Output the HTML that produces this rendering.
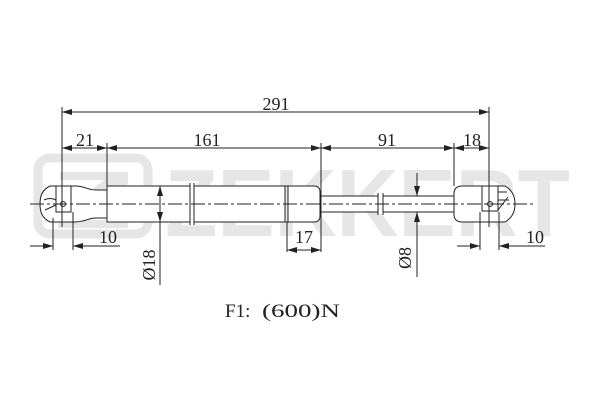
<!DOCTYPE html>
<html><head><style>body{margin:0;background:#fff}svg{display:block}</style></head><body>
<svg width="600" height="400" viewBox="0 0 600 400" xmlns="http://www.w3.org/2000/svg">
<defs>
<marker id="a" viewBox="0 0 10 6" refX="10" refY="3" markerWidth="10" markerHeight="6" orient="auto-start-reverse" markerUnits="userSpaceOnUse"><path d="M0,0L10,3L0,6z" fill="#222"/></marker>
</defs>
<g fill="#e6e6e6">
<rect x="38" y="158" width="110" height="76" rx="12" fill="none" stroke="#e6e6e6" stroke-width="9"/>
<path d="M60,172H128V184L82,220H128V228H58V216L104,180H60Z"/>
<text x="165" y="236" font-family="Liberation Sans,sans-serif" font-weight="bold" font-size="96" textLength="405" lengthAdjust="spacingAndGlyphs">ZEKKERT</text>
</g>
<g stroke="#222" stroke-width="1" fill="none">
<line x1="30" y1="204" x2="535" y2="204" stroke-dasharray="14,3,3,3"/>
<path d="M50,186H75C85,186 88,190 96,190H107V218H96C88,218 85,222 75,222H50C42,218 40,212 40,204C40,196 42,190 50,186Z" fill="#fff"/>
<rect x="56" y="186" width="15" height="26"/>
<path d="M44,200C48,198 52,198 56,200M45,210L56,205"/>
<circle cx="63" cy="204" r="2.5"/>
<rect x="107" y="186" width="178" height="36" fill="#fff"/>
<rect x="190" y="184" width="4" height="40" fill="#fff" stroke="none"/>
<line x1="190" y1="183" x2="190" y2="225"/><line x1="194" y1="183" x2="194" y2="225"/>
<rect x="285" y="186" width="3" height="36"/>
<path d="M288,186H314Q320,186 320,192V216Q320,222 314,222H288Z" fill="#fff"/>
<rect x="320" y="196" width="134" height="16" fill="#fff"/>
<rect x="378" y="194" width="5" height="20" fill="#fff" stroke="none"/>
<line x1="378" y1="193" x2="378" y2="215"/><line x1="383" y1="193" x2="383" y2="215"/>
<path d="M462,186H505C512,190 515,196 515,204C515,212 512,218 505,222H462Q454,222 454,214V194Q454,186 462,186Z" fill="#fff"/>
<rect x="482" y="186" width="16" height="25"/>
<path d="M498,192H507M498,200H509M498,210L508,197"/>
<circle cx="490" cy="204" r="2.5"/>
<line x1="30" y1="204" x2="535" y2="204" stroke-dasharray="14,3,3,3"/>
<line x1="62" y1="107" x2="62" y2="227"/>
<line x1="489" y1="107" x2="489" y2="227"/>
<line x1="107" y1="143" x2="107" y2="186"/>
<line x1="321" y1="143" x2="321" y2="252"/>
<line x1="454" y1="143" x2="454" y2="186"/>
<line x1="287" y1="222" x2="287" y2="252"/>
<line x1="53" y1="218" x2="53" y2="250"/><line x1="73" y1="212" x2="73" y2="250"/>
<line x1="480" y1="212" x2="480" y2="250"/><line x1="499" y1="212" x2="499" y2="250"/>
<line x1="62" y1="112" x2="489" y2="112" marker-start="url(#a)" marker-end="url(#a)"/>
<line x1="62" y1="148" x2="107" y2="148" marker-start="url(#a)" marker-end="url(#a)"/>
<line x1="107" y1="148" x2="321" y2="148" marker-start="url(#a)" marker-end="url(#a)"/>
<line x1="321" y1="148" x2="454" y2="148" marker-start="url(#a)" marker-end="url(#a)"/>
<line x1="454" y1="148" x2="489" y2="148" marker-start="url(#a)" marker-end="url(#a)"/>
<line x1="30" y1="246" x2="53" y2="246" marker-end="url(#a)"/>
<line x1="73" y1="246" x2="120" y2="246" marker-start="url(#a)"/>
<line x1="457" y1="246" x2="480" y2="246" marker-end="url(#a)"/>
<line x1="499" y1="246" x2="545" y2="246" marker-start="url(#a)"/>
<line x1="287" y1="250" x2="321" y2="250" marker-start="url(#a)" marker-end="url(#a)"/>
<line x1="160" y1="186" x2="160" y2="285" />
<line x1="160" y1="204" x2="160" y2="186" marker-end="url(#a)"/>
<line x1="160" y1="204" x2="160" y2="222" marker-end="url(#a)"/>
<line x1="417" y1="173" x2="417" y2="196" marker-end="url(#a)"/>
<line x1="417" y1="277" x2="417" y2="212" marker-end="url(#a)"/>
</g>
<g font-family="Liberation Serif,serif" font-size="18" fill="#222" text-anchor="middle">
<text x="276" y="110">291</text>
<text x="85" y="146">21</text>
<text x="207" y="146">161</text>
<text x="387" y="146">91</text>
<text x="472" y="146">18</text>
<text x="108" y="243">10</text>
<text x="304" y="243">17</text>
<text x="535" y="243">10</text>
<text transform="translate(155,265) rotate(-90)">Ø18</text>
<text transform="translate(411,258) rotate(-90)">Ø8</text>
</g>
<g font-family="Liberation Serif,serif" font-size="19" fill="#222">
<text x="225" y="317">F1:</text>
<text x="262" y="317" textLength="78" lengthAdjust="spacingAndGlyphs">(600)N</text>
</g>
</svg>
</body></html>
